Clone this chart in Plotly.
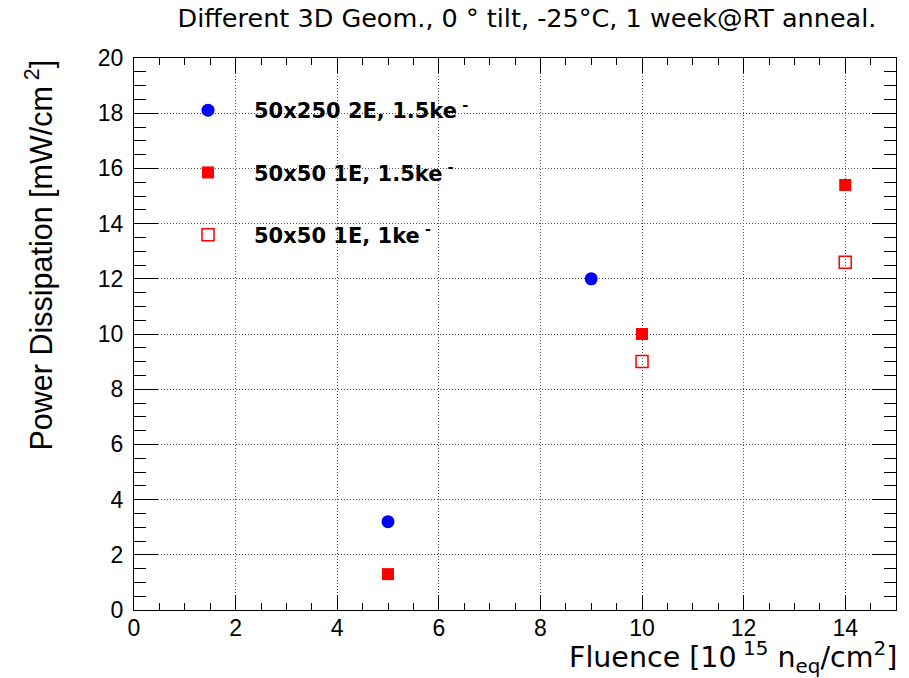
import plotly.graph_objects as go

# Data
fluence_a = [5, 9]
power_a = [3.2, 12.0]
fluence_b = [5, 10, 14]
power_b = [1.3, 10.0, 15.4]
fluence_c = [10, 14]
power_c = [9.0, 12.6]

names = ["<b>50x250 2E, 1.5ke<sup> -</sup></b>",
         "<b>50x50 1E, 1.5ke<sup> -</sup></b>",
         "<b>50x50 1E, 1ke<sup> -</sup></b>"]

FONT = "Liberation Sans, Arial, Helvetica, sans-serif"
WIDE = "DejaVu Sans, Liberation Sans, sans-serif"

fig = go.Figure()
fig.add_trace(go.Scatter(x=fluence_a, y=power_a, mode="markers", name=names[0],
                         legendgroup="a",
                         marker=dict(symbol="circle", size=13, color="#0000ff")))
fig.add_trace(go.Scatter(x=fluence_b, y=power_b, mode="markers", name=names[1],
                         legendgroup="b",
                         marker=dict(symbol="square", size=12, color="#ff0000")))
fig.add_trace(go.Scatter(x=fluence_c, y=power_c, mode="markers", name=names[2],
                         legendgroup="c",
                         marker=dict(symbol="square-open", size=12, color="#ff0000",
                                     line=dict(width=1.5))))

axis_common = dict(
    showline=True, linecolor="black", linewidth=1, mirror="ticks",
    ticks="inside", tickcolor="black", tickwidth=1,
    showgrid=True, gridcolor="#555555", griddash="1px,2px", gridwidth=1,
    zeroline=False,
    tickfont=dict(family=FONT, size=23, color="black"),
)

fig.update_layout(
    width=909, height=678,
    paper_bgcolor="white", plot_bgcolor="white",
    margin=dict(l=134, r=13, t=58, b=68),
    font=dict(family=FONT, color="black"),
    title=dict(text="Different 3D Geom., 0 ° tilt, -25°C, 1 week@RT anneal.",
               x=527/909, xanchor="center", y=1-18/678, yanchor="middle",
               font=dict(family=WIDE, size=25.5, color="black")),
    xaxis=dict(range=[0, 15], dtick=2, tick0=0, ticklen=15, ticklabelstandoff=-3,
               minor=dict(ticks="inside", dtick=0.5, ticklen=7, tickcolor="black", showgrid=False),
               **axis_common),
    yaxis=dict(range=[0, 20], dtick=2, tick0=0, ticklen=24, ticklabelstandoff=5,
               minor=dict(ticks="inside", dtick=0.5, ticklen=12, tickcolor="black", showgrid=False),
               **axis_common),
    showlegend=True,
    legend=dict(x=(162-134)/762, y=1-(90-58)/552, xanchor="left", yanchor="top",
                bgcolor="rgba(0,0,0,0)", borderwidth=0,
                font=dict(family=WIDE, size=21, color="black"),
                tracegroupgap=32, itemwidth=82),
    annotations=[
        dict(text="Power Dissipation [mW/cm<sup> 2</sup>]", textangle=-90,
             xref="paper", yref="paper", x=(40-134)/762, y=1.0,
             xanchor="center", yanchor="top", showarrow=False,
             font=dict(family=FONT, size=30.5, color="black")),
        dict(text="Fluence [10<sup> 15</sup> n<sub>eq</sub>/cm<sup>2</sup>]",
             xref="paper", yref="paper", x=(899-134)/762, y=-(657-610)/552,
             xanchor="right", yanchor="middle", showarrow=False,
             font=dict(family=WIDE, size=28.5, color="black")),
    ],
)

fig.write_html("out.html")
